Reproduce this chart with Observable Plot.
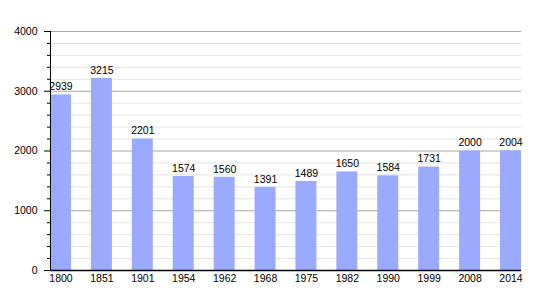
<!DOCTYPE html>
<html>
<head>
<meta charset="utf-8">
<script src="https://cdn.jsdelivr.net/npm/d3@7"></script>
<script src="https://cdn.jsdelivr.net/npm/@observablehq/plot@0.6"></script>
<style>
  html, body { margin: 0; padding: 0; background: #fff; }
</style>
</head>
<body>
<div id="chart"></div>
<script>
const years = ["1800","1851","1901","1954","1962","1968","1975","1982","1990","1999","2008","2014"];
const population = [2939,3215,2201,1574,1560,1391,1489,1650,1584,1731,2000,2004];
const majorTicks = [0,1000,2000,3000,4000];
const minorTicks = [200,400,600,800,1200,1400,1600,1800,2200,2400,2600,2800,3200,3400,3600,3800];

const data = years.map((y, i) => ({year: y, value: population[i]}));
const font = "Liberation Sans, Arial, sans-serif";

const chart = Plot.plot({
  width: 550,
  height: 300,
  marginLeft: 50,
  marginRight: 29,
  marginTop: 31,
  marginBottom: 30,
  style: {fontFamily: font, fontSize: "10.5px", background: "#fff", color: "#000"},
  x: {domain: years, paddingInner: 0.487, paddingOuter: 0, round: false, label: null},
  y: {domain: [0, 4000], label: null},
  marks: [
    Plot.ruleY(minorTicks, {stroke: "#e4e4e4", strokeWidth: 1}),
    Plot.ruleY(majorTicks.filter(d => d > 0), {stroke: "#a8a8a8", strokeWidth: 1}),
    Plot.barY(data, {x: "year", y: "value", fill: "#9aabff"}),
    Plot.text(data, {x: "year", y: "value", text: d => String(d.value), dy: -8, fontSize: 10.5, fill: "#000"}),
    Plot.axisY(minorTicks, {tickSize: 3, tickFormat: () => "", stroke: "#000"}),
    Plot.axisY(majorTicks, {tickSize: 6, tickPadding: 7, tickFormat: d => String(d), fontSize: 10.5, stroke: "#000"}),
    Plot.axisX({tickSize: 0, tickPadding: 4, fontSize: 10.5}),
    Plot.frame({anchor: "left", stroke: "#000"}),
    Plot.ruleY([0], {stroke: "#000", strokeWidth: 1.5})
  ]
});
document.getElementById("chart").appendChild(chart);
</script>
</body>
</html>
